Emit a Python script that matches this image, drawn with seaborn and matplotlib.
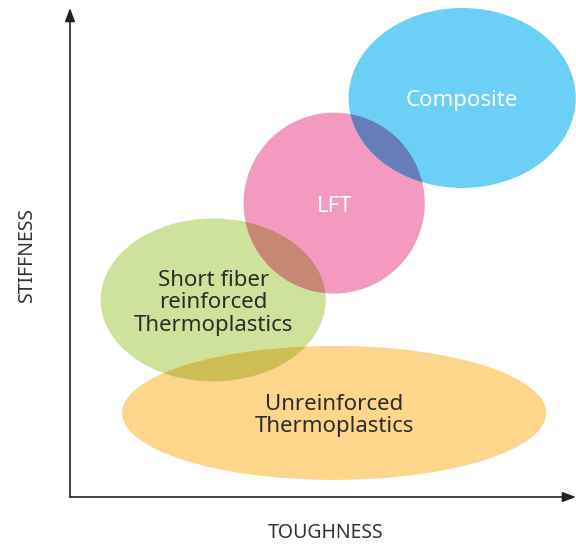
import seaborn as sns
import matplotlib.pyplot as plt
from matplotlib.patches import Ellipse
from matplotlib.colors import to_rgb

# material families on a toughness / stiffness map (arbitrary 0-10 units)
categorias = ["Unreinforced\nThermoplastics", "Short fiber\nreinforced\nThermoplastics", "LFT", "Composite"]
centro_x = [5.22, 2.83, 5.22, 7.75]
centro_y = [1.72, 4.03, 6.01, 8.16]
largura = [8.38, 4.45, 3.58, 4.49]
altura = [2.74, 3.33, 3.70, 3.68]
cores = ["#FDD68C", "#CFE29B", "#F49AC1", "#6CCFF6"]
cor_texto = ["#2b2b2b", "#2b2b2b", "white", "white"]
sobreposicoes = [(0, 1), (1, 2), (2, 3)]


def multiplicar(c1, c2):
    a, b = to_rgb(c1), to_rgb(c2)
    return tuple(x * y for x, y in zip(a, b))


sns.set_style("white")
plt.rcParams['font.family'] = ['Noto Sans', 'DejaVu Sans']

fig = plt.figure(figsize=(5.76, 5.49), dpi=100)
ax = fig.add_axes([70 / 576, 52 / 549, 506 / 576, 489 / 549])
ax.set_xlim(0, 10)
ax.set_ylim(0, 10)
ax.axis("off")

elipses = []
for i in range(len(categorias)):
    e = Ellipse((centro_x[i], centro_y[i]), largura[i], altura[i],
                facecolor=cores[i], edgecolor="none", zorder=1)
    ax.add_patch(e)
    elipses.append(e)

# overlapping areas look like a multiply blend
for a, b in sobreposicoes:
    e = Ellipse((centro_x[b], centro_y[b]), largura[b], altura[b],
                facecolor=multiplicar(cores[a], cores[b]), edgecolor="none", zorder=2)
    ax.add_patch(e)
    e.set_clip_path(elipses[a])

for i in range(len(categorias)):
    ax.text(centro_x[i], centro_y[i] - 0.06, categorias[i], ha="center", va="center",
            fontsize=16, color=cor_texto[i], linespacing=1.08, zorder=3)

seta = dict(arrowstyle="-|>,head_length=0.8,head_width=0.3", color="#222222", lw=1.2,
            shrinkA=0, shrinkB=0)
ax.annotate("", xy=(1.0, 0), xytext=(0, 0), xycoords="axes fraction", arrowprops=seta)
ax.annotate("", xy=(0, 1.0), xytext=(0, 0), xycoords="axes fraction", arrowprops=seta)

fig.text(326 / 576, 1 - 533 / 549, "TOUGHNESS", ha="center", va="center",
         fontsize=14, color="#333333")
fig.text(27 / 576, 1 - 255 / 549, "STIFFNESS", ha="center", va="center",
         fontsize=14, color="#333333", rotation=90)

fig.savefig("out.png", dpi=100)
